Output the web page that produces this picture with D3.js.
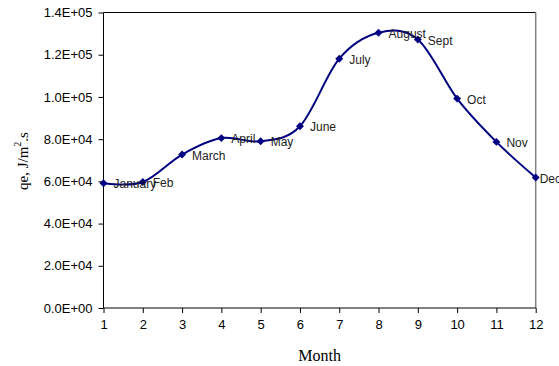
<!DOCTYPE html>
<html><head><meta charset="utf-8">
<script src="https://cdn.jsdelivr.net/npm/d3@7"></script>
<style>body{margin:0;background:#fff}svg{display:block}</style>
</head><body>
<svg id="c" width="559" height="366"></svg>
<script>
const months = [1,2,3,4,5,6,7,8,9,10,11,12];
const monthNames = ["January","Feb","March","April","May","June","July","August","Sept","Oct","Nov","Dec"];
const qe = [59100,59700,72700,80500,79000,86100,118100,130400,127200,99200,78700,61800];
const yTicks = [0,20000,40000,60000,80000,100000,120000,140000];
const yTickLabels = ["0.0E+00","2.0E+04","4.0E+04","6.0E+04","8.0E+04","1.0E+05","1.2E+05","1.4E+05"];

const svg = d3.select("#c");
const L=103.5, R=535.7, T=12.5, B=308;
const x = d3.scaleLinear().domain([1,12]).range([L,R]);
const y = d3.scaleLinear().domain([0,140000]).range([B,T]);

svg.append("line").attr("x1",L).attr("x2",R).attr("y1",T).attr("y2",T).attr("stroke","#000").attr("stroke-width",1);
svg.append("line").attr("x1",R).attr("x2",R).attr("y1",T).attr("y2",B).attr("stroke","#808080").attr("stroke-width",1.5);

const yAxis = d3.axisLeft(y).tickValues(yTicks).tickFormat((d,i)=>yTickLabels[i]).tickSize(5).tickPadding(6);
const gy = svg.append("g").attr("transform",`translate(${L},0)`).call(yAxis);
const xAxis = d3.axisBottom(x).tickValues(months).tickSize(5).tickPadding(7);
const gx = svg.append("g").attr("transform",`translate(0,${B})`).call(xAxis);
[gy,gx].forEach(g=>{
  g.select(".domain").attr("stroke","#000");
  g.selectAll(".tick line").attr("stroke","#000");
  g.selectAll("text").attr("font-family","Liberation Sans, Arial, sans-serif").attr("font-size","13px").attr("fill","#000");
});
gx.select(".domain").attr("d",`M${L},0H${R}`);
gy.select(".domain").attr("d",`M0,${B}V${T}`);

const pts = months.map((m,i)=>[x(m),y(qe[i])]);
svg.append("path").attr("d",d3.line().curve(d3.curveCatmullRom.alpha(0))(pts))
  .attr("fill","none").attr("stroke","#000080").attr("stroke-width",2);

svg.selectAll(".mk").data(pts).join("path").attr("class","mk")
  .attr("transform",d=>`translate(${d[0]},${d[1]})`)
  .attr("d",d3.symbol(d3.symbolDiamond2,40)).attr("fill","#000080");

svg.selectAll(".lb").data(pts).join("text").attr("class","lb")
  .attr("x",(d,i)=>d[0]+(i===11?4:10)).attr("y",d=>d[1]+1)
  .attr("dy","0.35em")
  .attr("font-family","Liberation Sans, Arial, sans-serif").attr("font-size","12px").attr("fill","#222")
  .text((d,i)=>monthNames[i]);

svg.append("text").attr("x",(L+R)/2).attr("y",361).attr("text-anchor","middle")
  .attr("font-family","Liberation Serif, Times New Roman, serif").attr("font-size","16px").text("Month");

const yl = svg.append("text").attr("transform",`translate(28,161) rotate(-90)`).attr("text-anchor","middle")
  .attr("font-family","Liberation Serif, Times New Roman, serif").attr("font-size","15px");
yl.append("tspan").text("qe, J/m");
yl.append("tspan").attr("dy","-7").attr("font-size","10px").text("2");
yl.append("tspan").attr("dy","7").text(".s");
</script>
</body></html>
